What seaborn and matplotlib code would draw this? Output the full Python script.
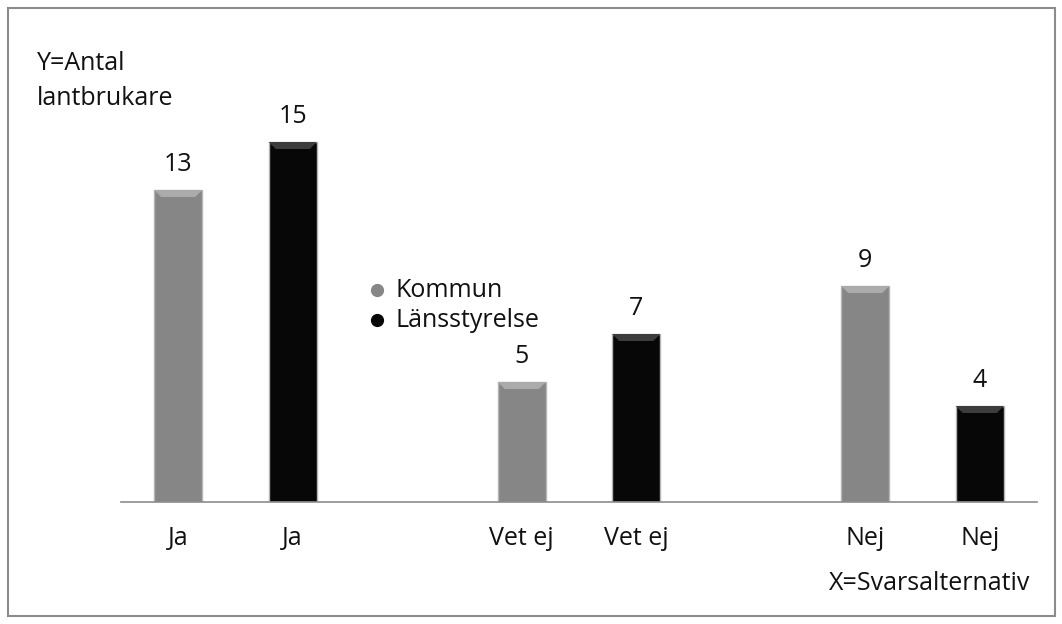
import matplotlib
matplotlib.use("Agg")
import matplotlib.pyplot as plt
import seaborn as sns
import pandas as pd
from matplotlib.patches import Rectangle, Polygon
from matplotlib.lines import Line2D

# data
slots = [0, 1, 3, 4, 6, 7]          # two empty slots separate the answer groups
answers = ["Ja", "Ja", "Vet ej", "Vet ej", "Nej", "Nej"]
series = ["Kommun", "Länsstyrelse", "Kommun", "Länsstyrelse", "Kommun", "Länsstyrelse"]
counts = [13, 15, 5, 7, 9, 4]

series_order = ["Kommun", "Länsstyrelse"]
palette = {"Kommun": "#868686", "Länsstyrelse": "#070707"}
bevel = {"Kommun": "#ababab", "Länsstyrelse": "#3c3c3c"}

df = pd.DataFrame({"slot": slots, "answer": answers, "series": series, "count": counts})

sns.set_style("white")
plt.rcParams["font.family"] = ["Open Sans", "DejaVu Sans"]
FS = 18
TXT = "#111111"

W, H = 1062, 624
fig = plt.figure(figsize=(W / 100, H / 100), dpi=100)
ax = fig.add_axes([121 / W, 122 / H, 916 / W, 396 / H])

sns.barplot(data=df, x="slot", y="count", hue="series", hue_order=series_order,
            palette=palette, native_scale=True, dodge=False, width=0.42,
            saturation=1, edgecolor="#b5b5b5", linewidth=1.0, legend=False, ax=ax)

ax.set_xlim(-0.5, 7.5)
ax.set_ylim(0, 16.5)

# small bevel on top of each bar, like the office 3-D style
bx = 7 / (916 / 8)
by = 7 / (396 / 16.5)
for cont, name in zip(ax.containers, series_order):
    for p in cont.patches:
        x0, y1, w = p.get_x(), p.get_height(), p.get_width()
        ax.add_patch(Polygon([[x0, y1], [x0 + w, y1], [x0 + w - bx, y1 - by], [x0 + bx, y1 - by]],
                             closed=True, facecolor=bevel[name], edgecolor="none", zorder=3))
    ax.bar_label(cont, padding=9.5, fontsize=FS, color=TXT)

ax.set_xticks(slots)
ax.set_xticklabels(answers, fontsize=FS, color=TXT)
ax.tick_params(axis="x", length=0, pad=17)
ax.set_yticks([])
ax.set_xlabel("")
ax.set_ylabel("")
for s in ["top", "left", "right"]:
    ax.spines[s].set_visible(False)
ax.spines["bottom"].set_color("#8c8c8c")
ax.spines["bottom"].set_linewidth(1.2)

# legend drawn by hand: bullet + label
for name, base in zip(series_order, [297, 327]):
    fig.add_artist(Line2D([377 / W], [1 - (base - 7) / H], transform=fig.transFigure,
                          marker="o", markersize=8.5, linestyle="",
                          markerfacecolor=palette[name], markeredgecolor=palette[name]))
    fig.text(395 / W, 1 - base / H, name, fontsize=FS, va="baseline", ha="left", color=TXT)

fig.text(37 / W, 1 - 70 / H, "Y=Antal", fontsize=FS, va="baseline", ha="left", color=TXT)
fig.text(37 / W, 1 - 105 / H, "lantbrukare", fontsize=FS, va="baseline", ha="left", color=TXT)
fig.text(1030 / W, 1 - 590 / H, "X=Svarsalternativ", fontsize=FS, va="baseline", ha="right",
         color=TXT)

fig.patches.append(Rectangle((8 / W, 8 / H), 1047 / W, 608 / H, transform=fig.transFigure,
                             fill=False, edgecolor="#8c8c8c", linewidth=1.5))

fig.savefig("out.png", dpi=100)
